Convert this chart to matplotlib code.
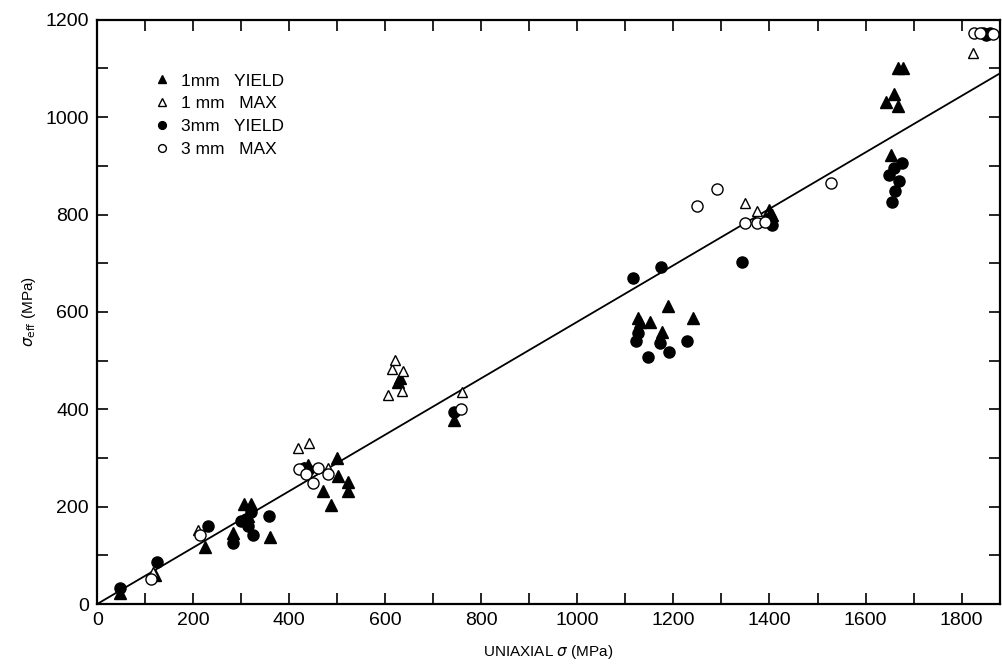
import matplotlib
matplotlib.use("Agg")
import matplotlib.pyplot as plt
from matplotlib.ticker import MultipleLocator

plt.rcParams['font.family'] = ['Liberation Sans', 'DejaVu Sans']
plt.rcParams['mathtext.fontset'] = 'dejavusans'

# 1mm yield (filled triangles)
y1_x = [48, 120, 224, 283, 305, 320, 315, 360, 440, 430, 471, 487, 499, 501, 523, 523,
        627, 630, 743, 1127, 1131, 1152, 1176, 1189, 1241, 1398, 1405,
        1643, 1660, 1668, 1668, 1677, 1654]
y1_y = [23, 60, 117, 146, 205, 205, 180, 138, 285, 280, 232, 203, 300, 262, 251, 232,
        456, 464, 378, 588, 579, 579, 559, 612, 588, 810, 800,
        1031, 1048, 1023, 1101, 1101, 922]

# 1mm max (open triangles)
m1_x = [117, 210, 419, 442, 481, 606, 613, 620, 634, 637, 760, 1350, 1374, 1395, 1824]
m1_y = [66, 152, 320, 331, 280, 429, 483, 501, 438, 479, 436, 824, 807, 800, 1132]

# 3mm yield (filled circles)
y3_x = [48, 125, 231, 283, 300, 310, 315, 320, 325, 358, 430, 440, 743,
        1116, 1122, 1127, 1148, 1172, 1174, 1191, 1228, 1343, 1402, 1405,
        1649, 1656, 1659, 1662, 1670, 1675, 1845, 1850, 1855, 1860]
y3_y = [33, 86, 160, 125, 170, 175, 160, 190, 142, 181, 280, 275, 395,
        670, 541, 556, 508, 536, 692, 518, 541, 703, 793, 779,
        881, 826, 896, 849, 868, 906, 1172, 1168, 1170, 1172]

# 3mm max (open circles)
m3_x = [112, 214, 420, 435, 450, 460, 481, 758, 1250, 1291, 1350, 1374, 1391, 1528,
        1825, 1838, 1865]
m3_y = [51, 142, 278, 268, 249, 280, 268, 400, 818, 853, 783, 783, 785, 865,
        1172, 1172, 1170]

# fitted line
fit_x = [0, 1880]
fit_y = [0, 1090]

fig = plt.figure(figsize=(10.02, 6.70), dpi=100)
ax = fig.add_axes([0.097, 0.0985, 0.901, 0.872])

ax.plot(fit_x, fit_y, color='black', lw=1.3, zorder=1)

ax.plot(y1_x, y1_y, '^', color='black', ms=8, ls='none', label='1mm   YIELD')
ax.plot(m1_x, m1_y, '^', mfc='white', mec='black', mew=1.0, ms=7.5, ls='none', label='1 mm   MAX')
ax.plot(y3_x, y3_y, 'o', color='black', ms=8, ls='none', label='3mm   YIELD')
ax.plot(m3_x, m3_y, 'o', mfc='white', mec='black', mew=1.0, ms=8, ls='none', label='3 mm   MAX')

ax.set_xlim(0, 1880)
ax.set_ylim(0, 1200)
ax.xaxis.set_major_locator(MultipleLocator(200))
ax.xaxis.set_minor_locator(MultipleLocator(100))
ax.yaxis.set_major_locator(MultipleLocator(200))
ax.yaxis.set_minor_locator(MultipleLocator(100))
ax.tick_params(which='both', direction='in', top=True, right=True, length=8, width=1.2,
               labelsize=14, pad=6)
for s in ax.spines.values():
    s.set_linewidth(1.6)

ax.set_xlabel(r'UNIAXIAL $\sigma$ (MPa)', fontsize=11, labelpad=10)
ax.set_ylabel(r'$\sigma_{\rm eff}$ (MPa)', fontsize=11, labelpad=5)

leg = ax.legend(loc='upper left', bbox_to_anchor=(0.045, 0.935), frameon=False,
                fontsize=12.5, markerscale=0.7, handlelength=1.0, handletextpad=0.6,
                labelspacing=0.45)

fig.savefig('out.png', dpi=100)
